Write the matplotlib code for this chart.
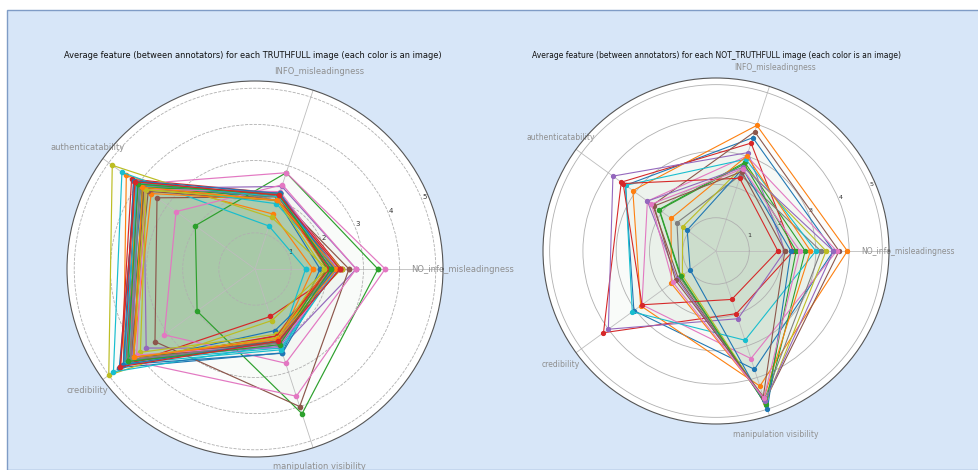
import numpy as np
import matplotlib
matplotlib.use("Agg")
import matplotlib.pyplot as plt
from matplotlib.patches import Rectangle

features = ["NO_info_misleadingness", "INFO_misleadingness", "authenticatability",
            "credibility", "manipulation visibility"]
radial_ticks = [1, 2, 3, 4, 5]

# Average feature value per TRUTHFULL image (one entry per image)
truthful_no_info = [1.8, 1.6, 3.4, 2.4, 2.8, 2.6, 3.6, 2.2, 2.0, 1.4,
                    2.3, 2.1, 2.2, 2.0, 2.3, 2.2, 2.8, 2.1, 2.4, 2.25,
                    2.1, 2.0, 2.0, 2.05, 2.25, 2.35, 2.3, 2.15, 1.9, 2.25,
                    2.2, 2.25, 2.1, 2.35]
truthful_info = [2.0, 1.6, 2.8, 2.2, 2.4, 2.1, 2.8, 2.1, 1.5, 1.25,
                 2.2, 2.0, 2.1, 2.1, 2.2, 2.0, 2.45, 2.1, 2.0, 1.9,
                 2.1, 2.1, 2.2, 2.1, 2.15, 2.0, 2.25, 2.2, 2.0, 2.1,
                 2.2, 2.0, 2.15, 2.15]
truthful_auth = [4.07, 4.4, 2.04, 4.22, 3.8, 3.35, 4.0, 4.0, 4.88, 4.55,
                 3.85, 3.55, 3.8, 4.1, 3.95, 3.65, 2.7, 3.9, 3.72, 3.94,
                 4.0, 4.1, 3.85, 4.15, 4.05, 3.8, 3.75, 3.95, 3.75, 4.05,
                 4.15, 3.85, 4.0, 4.1]
truthful_cred = [4.64, 4.5, 1.98, 4.6, 3.72, 3.42, 4.3, 4.4, 5.0, 4.84,
                 4.45, 4.16, 4.3, 4.4, 4.2, 4.25, 3.1, 4.4, 3.92, 4.33,
                 4.5, 4.25, 4.15, 4.45, 4.25, 4.15, 4.05, 4.25, 4.15, 4.45,
                 4.5, 4.15, 4.35, 4.6]
truthful_manip = [2.44, 2.14, 4.21, 1.38, 2.3, 4.0, 3.7, 2.1, 1.5, 2.2,
                  1.79, 2.0, 2.1, 1.94, 2.2, 2.15, 2.74, 2.05, 1.9, 2.3,
                  2.45, 2.0, 2.15, 1.95, 2.25, 2.1, 2.2, 2.15, 2.0, 2.35,
                  2.1, 2.05, 2.2, 2.1]

# Average feature value per NOT_TRUTHFULL image
fake_no_info = [3.53, 3.95, 2.68, 2.32, 2.07, 3.7, 3.63, 3.15, 3.31, 3.0,
                2.25, 2.84, 2.41, 1.86, 3.53, 2.07, 2.52]
fake_info = [3.58, 3.97, 2.8, 3.41, 3.11, 3.77, 3.0, 2.4, 2.7, 2.9,
             2.6, 3.0, 2.75, 2.3, 2.65, 2.51, 2.6]
fake_auth = [3.36, 3.09, 2.12, 3.52, 3.83, 2.35, 2.55, 1.45, 1.24, 3.36,
             1.07, 1.67, 2.1, 3.45, 2.55, 2.3, 2.4]
fake_cred = [3.05, 2.8, 1.32, 4.18, 4.0, 1.4, 2.75, 1.35, 1.25, 3.11,
             0.96, 1.66, 1.3, 2.75, 1.44, 1.5, 1.6]
fake_manip = [3.74, 4.27, 4.87, 1.98, 2.14, 4.75, 3.4, 4.7, 4.8, 2.82,
              5.0, 4.65, 4.85, 1.53, 4.75, 4.6, 4.65]

fig = plt.figure(figsize=(9.79, 4.70), dpi=100, facecolor="white")
fig.patches.append(Rectangle((7 / 979, 0), 1 - 7 / 979, 460 / 470,
                             transform=fig.transFigure, facecolor="#d7e6f8",
                             edgecolor="#7f9cc6", linewidth=1.0, zorder=-5))

angles = np.linspace(0, 2 * np.pi, len(features), endpoint=False)
closed_angles = np.concatenate([angles, angles[:1]])


def radar(ax, columns, scale, grid_style):
    rows = np.array(columns).T
    for i, row in enumerate(rows):
        vals = np.concatenate([row, row[:1]])
        ax.plot(closed_angles, vals, "o-", color=f"C{i % 10}",
                linewidth=0.85 * scale, markersize=3.0 * scale)
        ax.fill(closed_angles, vals, color="#1e821e", alpha=0.013)
    ax.set_ylim(0, 5.2)
    ax.set_xticks(angles)
    ax.set_xticklabels(features, color="#8f8f8f", fontsize=6.0 * scale)
    ax.set_yticks(radial_ticks)
    ax.set_yticklabels([str(t) for t in radial_ticks], fontsize=5.0 * scale,
                       color="#333333")
    ax.set_rlabel_position(22.5)
    ax.xaxis.grid(True, color="#bdbdbd", linewidth=0.6)
    ax.yaxis.grid(True, color="#b0b0b0", linewidth=0.6, linestyle=grid_style)
    ax.spines["polar"].set_color("#555555")
    ax.spines["polar"].set_linewidth(0.8)
    ax.set_facecolor("white")


ax1 = fig.add_axes([(255 - 188) / 979, (201 - 188) / 470, 376 / 979, 376 / 470],
                   projection="polar")
radar(ax1, [truthful_no_info, truthful_info, truthful_auth, truthful_cred,
            truthful_manip], 1.0, "--")

ax2 = fig.add_axes([(716 - 173) / 979, (219 - 173) / 470, 346 / 979, 346 / 470],
                   projection="polar")
radar(ax2, [fake_no_info, fake_info, fake_auth, fake_cred, fake_manip], 0.92, "-")

fig.text(253 / 979, 1 - 55 / 470,
         "Average feature (between annotators) for each TRUTHFULL image (each color is an image)",
         ha="center", va="center", fontsize=5.95, color="#111111")
fig.text(716 / 979, 1 - 55 / 470,
         "Average feature (between annotators) for each NOT_TRUTHFULL image (each color is an image)",
         ha="center", va="center", fontsize=5.5, color="#111111")

fig.savefig("out.png", dpi=100, facecolor=fig.get_facecolor())
